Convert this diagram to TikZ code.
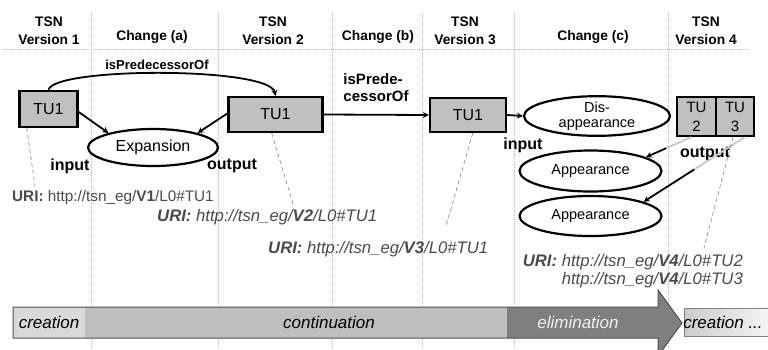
\documentclass[tikz,border=0pt]{standalone}
\usepackage{fontspec}
\setmainfont{Liberation Sans}
\usetikzlibrary{shapes.geometric,arrows.meta,calc}
\definecolor{boxg}{HTML}{C0C0C0}
\definecolor{urig}{HTML}{4A4A4A}
\definecolor{crea}{HTML}{D9D9D9}
\definecolor{cont}{HTML}{BEBEBE}
\definecolor{elim}{HTML}{7F7F7F}
\definecolor{outl}{HTML}{505050}
\newcommand\myfs[2]{\fontsize{#1}{#2}\selectfont}
\begin{document}
\begin{tikzpicture}[x=1pt,y=-1pt,
  hdr/.style={font=\bfseries\myfs{13.8}{18}, align=center, inner sep=0},
  tu/.style={draw, line width=2.4pt, fill=boxg, inner sep=0, font=\myfs{16}{19}, align=center},
  ell/.style={ellipse, draw, line width=2.2pt, fill=white, inner sep=0, align=center},
  arr/.style={line width=1.8pt, -{Stealth[length=6pt,width=6pt]}},
  garr/.style={line width=1.8pt, draw=gray!45},
  lbl/.style={font=\bfseries\myfs{16}{16}, inner sep=0},
  uri/.style={text=urig, inner sep=0, anchor=west},
  dsh/.style={draw=gray, line width=0.6pt, dash pattern=on 4pt off 3pt},
  sep/.style={draw=gray!55, line width=0.8pt, dash pattern=on 0.8pt off 1.2pt},
  bartxt/.style={font=\itshape\myfs{17}{17}, inner sep=0}]
\useasboundingbox (0,0) rectangle (768,349);
\clip (0,0) rectangle (768,349);

% separators
\foreach \x in {91,218,332,422,514,668} \draw[sep] (\x,13) -- (\x,349);
\draw[sep] (3,49) -- (748,49);

% headers
\node[hdr] (h1) at (49,31) {TSN\\Version 1};
\node[hdr] (h2) at (152,37) {Change (a)};
\node[hdr] (h3) at (273,31) {TSN\\Version 2};
\node[hdr] (h4) at (378,37) {Change (b)};
\node[hdr] (h5) at (465,31) {TSN\\Version 3};
\node[hdr] (h6) at (593,37) {Change (c)};
\node[hdr] (h7) at (706,31) {TSN\\Version 4};

% bottom bar
\fill[cont] (13,307) rectangle (507,338);
\fill[crea] (13,307) rectangle (85,338);
\fill[elim] (507,307) -- (658,307) -- (658,290) -- (682,323) -- (658,356) -- (658,338) -- (507,338) -- cycle;
\draw[outl, line width=1pt] (13,307) -- (658,307) -- (658,290) -- (682,323) -- (658,356) -- (658,338) -- (13,338) -- cycle;
\node[bartxt] (tcre) at (49,322) {creation};
\node[bartxt] (tcont) at (329,322) {continuation};
\node[bartxt, text=gray!12] (telim) at (578,322) {elimination};
\shade[left color=gray!40, right color=white] (684,308) rectangle (790,336);
\draw[gray, line width=0.8pt] (684,308) rectangle (790,336);
\node[bartxt] (tcre2) at (723,322) {creation ...};

% nodes
\node[tu, minimum width=58pt, minimum height=36pt] (a1) at (48.5,109) {TU1};
\node[ell, minimum width=130pt, minimum height=37pt, font=\myfs{16}{16}] (exp) at (153,147.5) {Expansion};
\node[tu, minimum width=94pt, minimum height=35pt] (b1) at (275.5,114.5) {TU1};
\node[tu, minimum width=76pt, minimum height=34pt] (c1) at (468,115) {TU1};
\node[ell, minimum width=146pt, minimum height=36pt, font=\myfs{14.5}{14.5}] (dis) at (597,116) {Dis-\\appearance};
\node[tu, minimum width=39pt, minimum height=39pt, font=\myfs{15}{19}] (tu2) at (696.5,116.5) {TU\\2};
\node[tu, minimum width=38pt, minimum height=39pt, font=\myfs{15}{19}] (tu3) at (735,116.5) {TU\\3};
\node[ell, minimum width=142pt, minimum height=41pt, font=\myfs{14.5}{14.5}] (app1) at (590.5,171) {Appearance};
\node[ell, minimum width=142pt, minimum height=40pt, font=\myfs{14.5}{14.5}] (app2) at (590.5,216) {Appearance};

% connector labels
\node[inner sep=0, font=\bfseries\myfs{13}{13}] (l1) at (157,65) {isPredecessorOf};
\node[inner sep=0, font=\bfseries\myfs{15}{17}, align=left] (l2) at (376,88) {isPrede-\\cessorOf};
\node[lbl] (in1) at (70,166) {input};
\node[lbl] (out1) at (232,166) {output};
\node[lbl] (in2) at (523,145) {input};
\node[lbl] (out2) at (705,154) {output};

% connectors
\draw[arr] (a1.north) .. controls ($(a1.north)+(6,-23)$) and ($(b1.north)+(-6,-29)$) .. (b1.north);
\draw[arr] ($(a1.east)+(0,3)$) -- (exp.162);
\draw[arr] ($(b1.west)+(0,-1)$) -- (exp.18);
\draw[arr] (b1.east) -- (c1.west);
\draw[arr] (c1.east) -- (dis.west);
\coordinate (m1) at ($(tu2.-105)!0.55!(app1.14)$);
\draw[garr] (tu2.-105) -- (m1);
\draw[arr] (m1) -- (app1.14);
\coordinate (m2) at ($(tu3.-65)!0.5!(app2.15)$);
\draw[garr] (tu3.-65) -- (m2);
\draw[arr] (m2) -- (app2.15);

% URIs
\node[uri, font=\myfs{15.3}{15.3}] (u1) at (12,198) {\textbf{URI:} http://tsn\_eg/\textbf{V1}/L0\#TU1};
\node[uri, font=\itshape\myfs{16.7}{16.7}] (u2) at (157,217) {\textbf{URI:} http://tsn\_eg/\textbf{V2}/L0\#TU1};
\node[uri, font=\itshape\myfs{16.7}{16.7}] (u3) at (268,249) {\textbf{URI:} http://tsn\_eg/\textbf{V3}/L0\#TU1};
\node[uri, anchor=north east, align=right, font=\itshape\myfs{16.7}{18}] (u4) at (743,254) {\textbf{URI:} http://tsn\_eg/\textbf{V4}/L0\#TU2\\http://tsn\_eg/\textbf{V4}/L0\#TU3};

% dashed leaders
\coordinate (e1) at (35,186);
\coordinate (e2) at (293,204);
\coordinate (e3) at (446,226);
\coordinate (e4) at (704,248);
\draw[dsh] ($(a1.south west)!0.14!(a1.south east)$) -- (e1);
\draw[dsh] ($(b1.south west)!0.46!(b1.south east)$) -- (e2);
\draw[dsh] ($(c1.south west)!0.56!(c1.south east)$) -- (e3);
\draw[dsh] ($(tu3.south west)!0.45!(tu3.south east)$) -- (e4);
\end{tikzpicture}
\end{document}
